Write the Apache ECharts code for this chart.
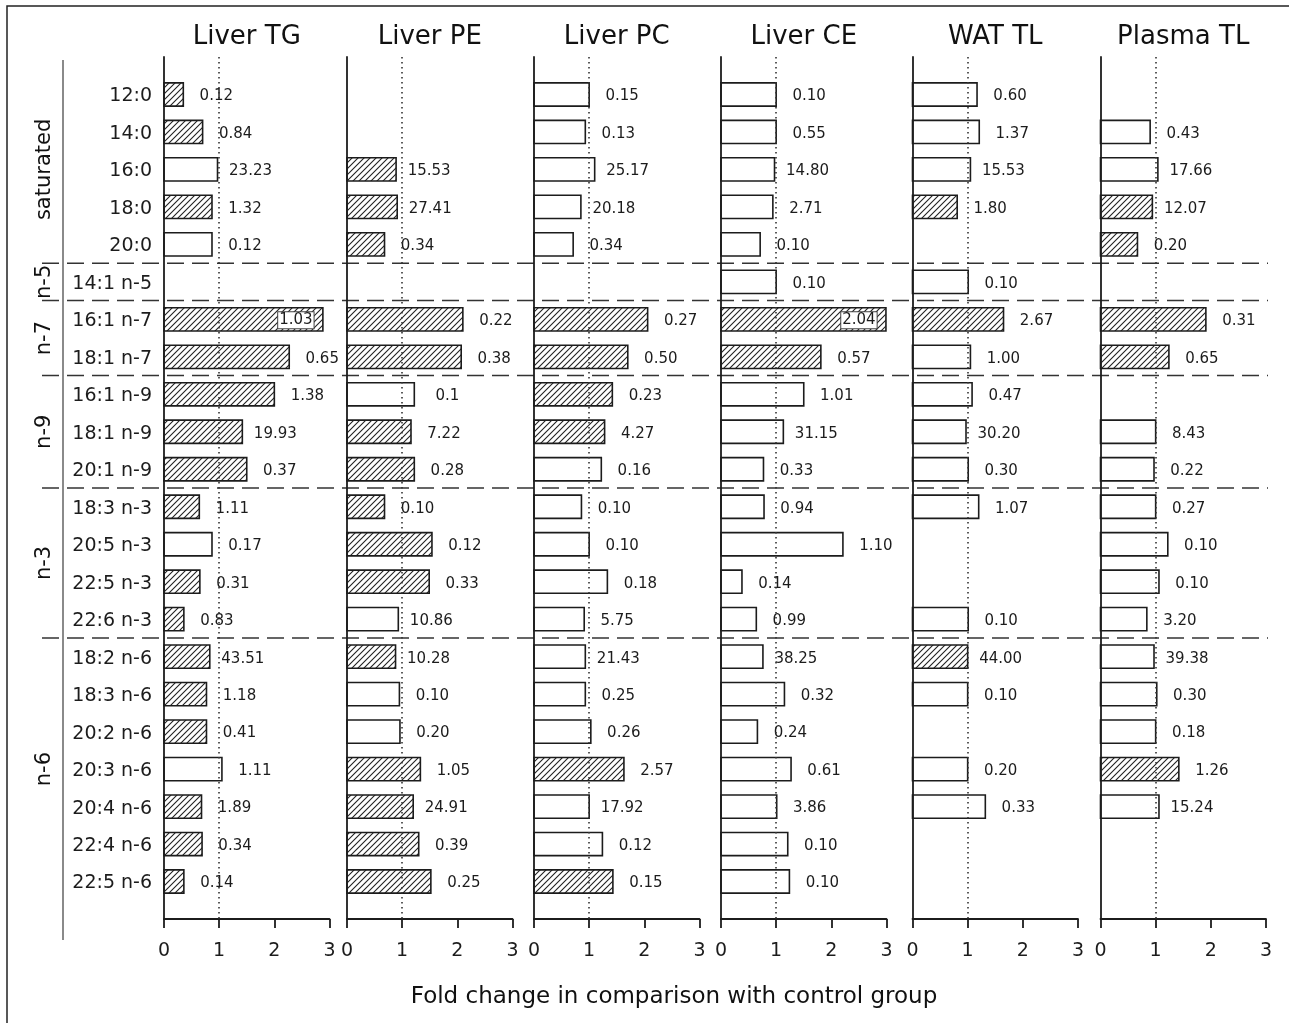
<!DOCTYPE html>
<html>
<head>
<meta charset="utf-8">
<script src="https://cdn.jsdelivr.net/npm/echarts@6/dist/echarts.min.js"></script>
<style>
  html, body { margin: 0; padding: 0; background: #fff; }
  #chart { width: 1289px; height: 1023px; }
</style>
</head>
<body>
<div id="chart"></div>
<script>
// Fatty-acid rows (top to bottom)
const rows = ['12:0', '14:0', '16:0', '18:0', '20:0', '14:1 n-5', '16:1 n-7', '18:1 n-7',
  '16:1 n-9', '18:1 n-9', '20:1 n-9', '18:3 n-3', '20:5 n-3', '22:5 n-3', '22:6 n-3',
  '18:2 n-6', '18:3 n-6', '20:2 n-6', '20:3 n-6', '20:4 n-6', '22:4 n-6', '22:5 n-6'];

// Fatty-acid families: name, first row, last row
const groupNames = ['saturated', 'n-5', 'n-7', 'n-9', 'n-3', 'n-6'];
const groupFirst = [0, 5, 6, 8, 11, 15];
const groupLast = [4, 5, 7, 10, 14, 21];

const panelTitles = ['Liver TG', 'Liver PE', 'Liver PC', 'Liver CE', 'WAT TL', 'Plasma TL'];
const xTicks = [0, 1, 2, 3];
const xTitle = 'Fold change in comparison with control group';

// Liver TG: fold change, share of total (%), significant (hatched)
const tgFold = [0.35, 0.70, 0.97, 0.87, 0.87, null, 2.88, 2.27, 2.00, 1.42, 1.50, 0.64, 0.87, 0.65, 0.36, 0.83, 0.77, 0.77, 1.05, 0.68, 0.69, 0.36];
const tgShare = ['0.12', '0.84', '23.23', '1.32', '0.12', null, '1.03', '0.65', '1.38', '19.93', '0.37', '1.11', '0.17', '0.31', '0.83', '43.51', '1.18', '0.41', '1.11', '1.89', '0.34', '0.14'];
const tgSig = [1, 1, 0, 1, 0, 0, 1, 1, 1, 1, 1, 1, 0, 1, 1, 1, 1, 1, 0, 1, 1, 1];

// Liver PE
const peFold = [null, null, 0.89, 0.91, 0.68, null, 2.10, 2.07, 1.22, 1.16, 1.22, 0.68, 1.54, 1.49, 0.93, 0.88, 0.95, 0.96, 1.33, 1.20, 1.30, 1.52];
const peShare = [null, null, '15.53', '27.41', '0.34', null, '0.22', '0.38', '0.1', '7.22', '0.28', '0.10', '0.12', '0.33', '10.86', '10.28', '0.10', '0.20', '1.05', '24.91', '0.39', '0.25'];
const peSig = [0, 0, 1, 1, 1, 0, 1, 1, 0, 1, 1, 1, 1, 1, 0, 1, 0, 0, 1, 1, 1, 1];

// Liver PC
const pcFold = [1.00, 0.93, 1.10, 0.85, 0.71, null, 2.06, 1.70, 1.42, 1.28, 1.22, 0.86, 1.00, 1.33, 0.91, 0.93, 0.93, 1.03, 1.63, 1.00, 1.24, 1.43];
const pcShare = ['0.15', '0.13', '25.17', '20.18', '0.34', null, '0.27', '0.50', '0.23', '4.27', '0.16', '0.10', '0.10', '0.18', '5.75', '21.43', '0.25', '0.26', '2.57', '17.92', '0.12', '0.15'];
const pcSig = [0, 0, 0, 0, 0, 0, 1, 1, 1, 1, 0, 0, 0, 0, 0, 0, 0, 0, 1, 0, 0, 1];

// Liver CE
const ceFold = [1.00, 1.00, 0.97, 0.94, 0.71, 1.00, 2.99, 1.81, 1.50, 1.13, 0.77, 0.78, 2.21, 0.38, 0.64, 0.76, 1.15, 0.66, 1.27, 1.01, 1.21, 1.24];
const ceShare = ['0.10', '0.55', '14.80', '2.71', '0.10', '0.10', '2.04', '0.57', '1.01', '31.15', '0.33', '0.94', '1.10', '0.14', '0.99', '38.25', '0.32', '0.24', '0.61', '3.86', '0.10', '0.10'];
const ceSig = [0, 0, 0, 0, 0, 0, 1, 1, 0, 0, 0, 0, 0, 0, 0, 0, 0, 0, 0, 0, 0, 0];

// WAT TL
const watFold = [1.17, 1.21, 1.05, 0.81, null, 1.01, 1.65, 1.05, 1.08, 0.97, 1.01, 1.20, null, null, 1.01, 1.00, 1.00, null, 1.00, 1.32, null, null];
const watShare = ['0.60', '1.37', '15.53', '1.80', null, '0.10', '2.67', '1.00', '0.47', '30.20', '0.30', '1.07', null, null, '0.10', '44.00', '0.10', null, '0.20', '0.33', null, null];
const watSig = [0, 0, 0, 1, 0, 0, 1, 0, 0, 0, 0, 0, 0, 0, 0, 1, 0, 0, 0, 0, 0, 0];

// Plasma TL
const plFold = [null, 0.90, 1.04, 0.94, 0.67, null, 1.91, 1.24, null, 1.00, 0.97, 1.00, 1.22, 1.06, 0.84, 0.97, 1.02, 1.00, 1.42, 1.06, null, null];
const plShare = [null, '0.43', '17.66', '12.07', '0.20', null, '0.31', '0.65', null, '8.43', '0.22', '0.27', '0.10', '0.10', '3.20', '39.38', '0.30', '0.18', '1.26', '15.24', null, null];
const plSig = [0, 0, 0, 1, 1, 0, 1, 1, 0, 0, 0, 0, 0, 0, 0, 0, 0, 0, 1, 0, 0, 0];

const folds = [tgFold, peFold, pcFold, ceFold, watFold, plFold];
const shares = [tgShare, peShare, pcShare, ceShare, watShare, plShare];
const sigs = [tgSig, peSig, pcSig, ceSig, watSig, plSig];

// ---- styling / layout ----
const FONT = 'DejaVu Sans';
const INK = '#1c1c1c';
const gridLeft = [164, 347, 534, 721, 912.5, 1100.5];
const gridWidth = 165.5;
const gridTop = 57;
const gridHeight = 862;
const INSIDE_FROM = 2.6; // labels of bars longer than this sit inside the bar
const TEXT_DROP = 2;     // optical nudge so digits sit on the bar's centre line

// diagonal hatch used for significant changes
function makeHatch() {
  const s = 6;
  const c = document.createElement('canvas');
  c.width = s; c.height = s;
  const g = c.getContext('2d');
  g.strokeStyle = '#222';
  g.lineWidth = 1.1;
  g.beginPath();
  g.moveTo(0, s); g.lineTo(s, 0);
  g.moveTo(-1, 1); g.lineTo(1, -1);
  g.moveTo(s - 1, s + 1); g.lineTo(s + 1, s - 1);
  g.stroke();
  return c;
}
const hatch = { type: 'pattern', image: makeHatch(), repeat: 'repeat' };

const chart = echarts.init(document.getElementById('chart'), null, { renderer: 'canvas' });

const grids = [], xAxes = [], yAxes = [], series = [];
panelTitles.forEach((t, p) => {
  grids.push({ left: gridLeft[p], top: gridTop, width: gridWidth, height: gridHeight, outerBoundsMode: 'none' });
  xAxes.push({
    type: 'value', gridIndex: p, min: xTicks[0], max: xTicks[xTicks.length - 1], interval: 1,
    axisLine: { show: true, onZero: false, lineStyle: { color: INK, width: 1.8 } },
    axisTick: { show: true, inside: false, length: 9, lineStyle: { color: INK, width: 1.8 } },
    splitLine: { show: false },
    axisLabel: { fontSize: 19, fontFamily: FONT, color: INK, margin: 23, showMinLabel: true, showMaxLabel: true }
  });
  yAxes.push({
    type: 'value', gridIndex: p, inverse: true, min: -1, max: rows.length, interval: 1,
    axisLine: { show: true, onZero: false, lineStyle: { color: INK, width: 1.8 } },
    axisTick: { show: false },
    splitLine: { show: false },
    axisLabel: { show: false }
  });

  const items = [];
  folds[p].forEach((v, i) => {
    if (v != null) items.push({ value: [v, i], share: shares[p][i], sig: sigs[p][i] });
  });

  series.push({
    type: 'custom', xAxisIndex: p, yAxisIndex: p, clip: false, silent: true,
    data: items.map(d => d.value),
    renderItem: (params, api) => {
      const d = items[params.dataIndex];
      const v = api.value(0), r = api.value(1);
      const p0 = api.coord([0, r]);
      const p1 = api.coord([v, r]);
      const h = api.size([0, 1])[1] * 0.62;
      const inside = v > INSIDE_FROM;
      const label = inside
        ? { type: 'text', x: p1[0] - 27, y: p1[1] + 1, z2: 5,
            style: { text: d.share, fill: INK, fontSize: 15, fontFamily: FONT, align: 'center', verticalAlign: 'middle',
                     backgroundColor: '#fff', borderColor: '#444', borderWidth: 1, padding: [1, 1, 0, 1] } }
        : { type: 'text', x: p1[0] + 33, y: p1[1] + TEXT_DROP, z2: 5,
            style: { text: d.share, fill: INK, fontSize: 15, fontFamily: FONT, align: 'center', verticalAlign: 'middle' } };
      return {
        type: 'group',
        children: [
          { type: 'rect', shape: { x: p0[0], y: p1[1] - h / 2, width: p1[0] - p0[0], height: h },
            style: { fill: d.sig ? hatch : 'rgba(0,0,0,0)', stroke: INK, lineWidth: 1.6 } },
          label
        ]
      };
    },
    markLine: {
      silent: true, symbol: 'none', animation: false,
      label: { show: false },
      lineStyle: { color: '#333', width: 1.6, type: [1.6, 3.4] },
      data: [[{ coord: [1, -1] }, { coord: [1, rows.length] }]]
    }
  });
});

chart.setOption({
  animation: false,
  backgroundColor: '#fff',
  grid: grids, xAxis: xAxes, yAxis: yAxes, series: series
});

// ---- decorations placed through the axes' own scales ----
const graphics = [];
const toPx = (g, x, y) => chart.convertToPixel({ gridIndex: g }, [x, y]);
const rowY = r => toPx(0, 0, r)[1];

// outer frame (top and left edges)
graphics.push({ type: 'polyline', silent: true,
  shape: { points: [[7, 1030], [7, 6], [1300, 6]] },
  style: { stroke: '#222', lineWidth: 1.5, fill: null } });

// panel titles
panelTitles.forEach((t, p) => {
  const cx = toPx(p, 1.5, 0)[0];
  graphics.push({ type: 'text', silent: true, x: cx, y: 37,
    style: { text: t, fill: '#111', fontSize: 26, fontFamily: FONT, align: 'center', verticalAlign: 'middle' } });
});

// row names, right-aligned against the first panel's axis
const axisX0 = toPx(0, 0, 0)[0];
rows.forEach((name, i) => {
  graphics.push({ type: 'text', silent: true, x: axisX0 - 12, y: rowY(i) + TEXT_DROP,
    style: { text: name, fill: INK, fontSize: 19, fontFamily: FONT, align: 'right', verticalAlign: 'middle' } });
});

// family bracket line
graphics.push({ type: 'line', silent: true, shape: { x1: 63, y1: 60, x2: 63, y2: 940 },
  style: { stroke: '#8a8a8a', lineWidth: 2 } });

// family labels and dashed separators
groupNames.forEach((g, k) => {
  const yc = rowY((groupFirst[k] + groupLast[k]) / 2);
  graphics.push({ type: 'text', silent: true, x: 45, y: yc, rotation: Math.PI / 2,
    style: { text: g, fill: '#111', fontSize: 21, fontFamily: FONT, align: 'center', verticalAlign: 'middle' } });
  if (k > 0) {
    const yb = rowY(groupFirst[k] - 0.5);
    graphics.push({ type: 'line', silent: true, shape: { x1: 42, y1: yb, x2: 1268, y2: yb },
      style: { stroke: '#333', lineWidth: 1.5, lineDash: [17, 8] } });
  }
});

// shared x-axis title
graphics.push({ type: 'text', silent: true, x: 674, y: 997,
  style: { text: xTitle, fill: '#111', fontSize: 23, fontFamily: FONT, align: 'center', verticalAlign: 'middle' } });

chart.setOption({ graphic: graphics });
</script>
</body>
</html>
